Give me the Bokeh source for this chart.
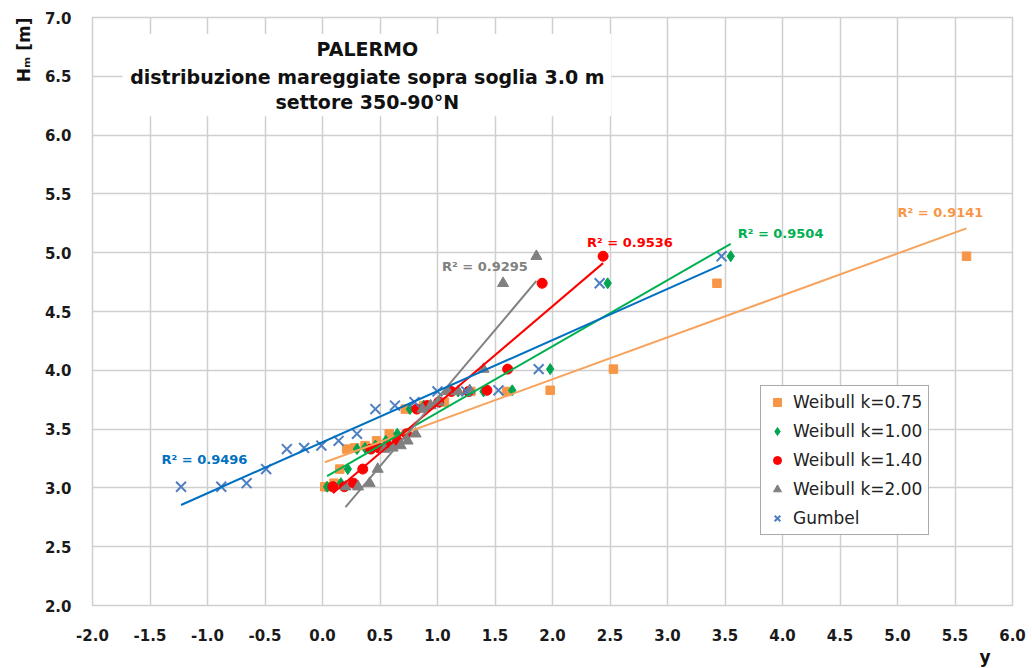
import numpy as np
from bokeh.plotting import figure
from bokeh.models import (Label, Title, BoxAnnotation, Legend, LegendItem,
                          FixedTicker, NumeralTickFormatter)
from bokeh.embed import file_html
from bokeh.resources import INLINE

# Storm peak heights Hm [m] above the 3.0 m threshold (sector 350-90°N), ascending
hm = [3.01, 3.01, 3.04, 3.16, 3.33, 3.34, 3.36, 3.40, 3.46,
      3.67, 3.70, 3.73, 3.82, 3.82, 3.83, 4.01, 4.74, 4.97]

# Reduced variates of each distribution for the same storms
y_weibull_075 = [0.02, 0.05, 0.10, 0.15, 0.21, 0.28, 0.37, 0.47, 0.58,
                 0.72, 0.88, 1.06, 1.29, 1.60, 1.98, 2.53, 3.43, 5.60]
y_weibull_100 = [0.04, 0.10, 0.16, 0.22, 0.30, 0.37, 0.46, 0.55, 0.65,
                 0.76, 0.88, 1.02, 1.18, 1.40, 1.65, 1.98, 2.48, 3.55]
y_weibull_140 = [0.09, 0.19, 0.27, 0.35, 0.42, 0.49, 0.57, 0.65, 0.73,
                 0.82, 0.91, 1.01, 1.12, 1.27, 1.43, 1.61, 1.91, 2.44]
y_weibull_200 = [0.20, 0.31, 0.41, 0.48, 0.54, 0.61, 0.68, 0.74, 0.81,
                 0.87, 0.94, 1.01, 1.09, 1.18, 1.28, 1.40, 1.57, 1.86]
y_gumbel = [-1.23, -0.88, -0.66, -0.49, -0.31, -0.16, -0.01, 0.14, 0.30,
            0.46, 0.63, 0.80, 1.00, 1.25, 1.53, 1.88, 2.41, 3.47]

series_names = ["Weibull k=0.75", "Weibull k=1.00", "Weibull k=1.40",
                "Weibull k=2.00", "Gumbel"]
r2_texts = ["R² = 0.9141", "R² = 0.9504", "R² = 0.9536", "R² = 0.9295", "R² = 0.9496"]

x_ticks = [-2.0, -1.5, -1.0, -0.5, 0.0, 0.5, 1.0, 1.5, 2.0, 2.5, 3.0,
           3.5, 4.0, 4.5, 5.0, 5.5, 6.0]
y_ticks = [2.0, 2.5, 3.0, 3.5, 4.0, 4.5, 5.0, 5.5, 6.0, 6.5, 7.0]

title_lines = ["PALERMO", "distribuzione mareggiate sopra soglia 3.0 m",
               "settore 350-90°N"]

FONT = "DejaVu Sans"
GRID = "#cfcfcf"

p = figure(width=1032, height=668, x_range=(-2, 6), y_range=(2, 7),
           output_backend="svg", toolbar_location=None,
           min_border_left=92, min_border_right=20,
           min_border_top=17, min_border_bottom=63)
p.outline_line_color = GRID
p.outline_line_width = 1.5

for ax, ticks in ((p.xaxis, x_ticks), (p.yaxis, y_ticks)):
    ax.ticker = FixedTicker(ticks=ticks)
    ax.formatter = NumeralTickFormatter(format="0.0")
    ax.axis_line_color = None
    ax.major_tick_line_color = None
    ax.minor_tick_line_color = None
    ax.major_label_text_font = FONT
    ax.major_label_text_font_style = "bold"
    ax.major_label_text_font_size = "15px"
    ax.major_label_text_color = "#1a1a1a"
p.xaxis.major_label_standoff = 17
p.yaxis.major_label_standoff = 15

for g in (p.xgrid, p.ygrid):
    g.grid_line_color = GRID
    g.grid_line_width = 1.5

# axis titles at the ends of the axes
p.add_layout(Title(text="Hₘ [m]", align="right", text_font=FONT,
                   text_font_style="bold", text_font_size="17px",
                   text_color="#111111", standoff=16), "left")
p.add_layout(Title(text="y", align="right", offset=22, text_font=FONT,
                   text_font_style="bold", text_font_size="17px",
                   text_color="#111111", standoff=2), "below")

# white panel behind the chart title
p.add_layout(BoxAnnotation(left=-1.74, right=2.51, bottom=6.16, top=6.86,
                           fill_color="white", fill_alpha=1.0, line_color=None))

all_x = [y_weibull_075, y_weibull_100, y_weibull_140, y_weibull_200, y_gumbel]

# scatter of each distribution
r075 = p.scatter(y_weibull_075, hm, marker="square", size=8.5,
                 fill_color="#f79646", line_color="#f79646")
r100 = p.scatter(y_weibull_100, hm, marker="diamond", size=11,
                 fill_color="#00a64f", line_color="#00a64f")
r140 = p.scatter(y_weibull_140, hm, marker="circle", size=10,
                 fill_color="#ff0000", line_color="#ff0000")
r200 = p.scatter(y_weibull_200, hm, marker="triangle", size=11,
                 fill_color="#808080", line_color="#808080")
rgum = p.scatter(y_gumbel, hm, marker="x", size=14,
                 line_color="#4f7fc0", line_width=2)

# linear trend lines over each data range
line_colors = ["#f8a35c", "#00b050", "#ff0000", "#808080", "#0070c0"]
for xs, col in zip(all_x, line_colors):
    slope, icpt = np.polyfit(xs, hm, 1)
    x_end = [min(xs), max(xs)]
    p.line(x_end, [slope * v + icpt for v in x_end], line_color=col, line_width=2)

# R² annotations
r2_pos = [(5.00, 5.34), (3.61, 5.16), (2.30, 5.09), (1.04, 4.88), (-1.40, 3.245)]
r2_colors = ["#f79646", "#00b050", "#ff0000", "#808080", "#0070c0"]
for txt, (lx, ly), col in zip(r2_texts, r2_pos, r2_colors):
    p.add_layout(Label(x=lx, y=ly, text=txt, text_font=FONT, text_font_style="bold",
                       text_font_size="13px", text_color=col, text_baseline="middle"))

# chart title
for txt, ty in zip(title_lines, [6.736, 6.497, 6.284]):
    p.add_layout(Label(x=0.39, y=ty, text=txt, text_font=FONT, text_font_style="bold",
                       text_font_size="19px", text_color="#111111",
                       text_align="center", text_baseline="middle"))

legend = Legend(items=[LegendItem(label=n, renderers=[r])
                       for n, r in zip(series_names, [r075, r100, r140, r200, rgum])],
                location=(668, 70), margin=0, padding=6, spacing=9,
                glyph_width=20, glyph_height=20, label_height=20, label_standoff=6,
                label_text_font=FONT, label_text_font_size="17px",
                label_text_color="#222222",
                border_line_color="#555555", border_line_width=1,
                background_fill_color="white", background_fill_alpha=1.0)
p.add_layout(legend)

open("out.html", "w").write(file_html(p, INLINE))
